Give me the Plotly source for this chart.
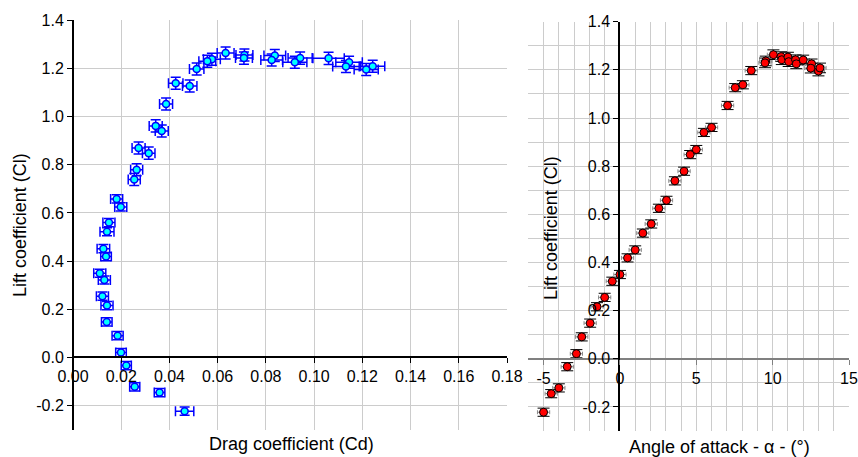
import plotly.graph_objects as go

# ---- data ----
alpha = [-5.0, -4.5, -4.0, -3.45, -2.85, -2.5, -1.95, -1.5, -1.0, -0.5, 0.0, 0.5, 1.0, 1.5, 2.05,
         2.55, 3.05, 3.6, 4.2, 4.6, 5.0, 5.5, 6.0, 7.05, 7.55, 8.05, 8.6, 9.55, 9.5, 10.05, 10.55,
         10.6, 11.0, 11.05, 11.5, 11.55, 12.0, 12.55, 12.5, 13.0, 13.1]
cl = [-0.222, -0.145, -0.121, -0.033, 0.021, 0.091, 0.148, 0.216, 0.255, 0.322, 0.350, 0.419,
      0.452, 0.522, 0.560, 0.625, 0.658, 0.739, 0.779, 0.848, 0.869, 0.940, 0.961, 1.052, 1.126,
      1.138, 1.197, 1.237, 1.229, 1.263, 1.255, 1.242, 1.253, 1.234, 1.242, 1.225, 1.241, 1.225,
      1.207, 1.195, 1.208]
cd = [0.0463, 0.0359, 0.0256, 0.0221, 0.0199, 0.0185, 0.0140, 0.0141, 0.0122, 0.0130, 0.0111,
      0.0137, 0.0126, 0.0141, 0.0149, 0.0198, 0.0181, 0.0254, 0.0264, 0.0314, 0.0272, 0.0368,
      0.0343, 0.0386, 0.0484, 0.0426, 0.0513, 0.0576, 0.0557, 0.0633, 0.0711, 0.0709, 0.0837,
      0.0824, 0.0942, 0.0920, 0.1060, 0.1145, 0.1132, 0.1216, 0.1243]
cd_err = [0.0038, 0.0022, 0.0021, 0.0021, 0.0022, 0.0023, 0.0022, 0.0025, 0.0025, 0.0025, 0.0025,
          0.0022, 0.0026, 0.0029, 0.0025, 0.0025, 0.0025, 0.0025, 0.0025, 0.0026, 0.0027, 0.0027,
          0.0027, 0.0027, 0.0030, 0.0030, 0.0030, 0.0035, 0.0035, 0.0035, 0.0035, 0.0035, 0.0045,
          0.0045, 0.0050, 0.0050, 0.0065, 0.0055, 0.0055, 0.0050, 0.0050]
cl_err_left = [0.017] * 17 + [0.025] * 24
cl_err_right = [0.017] * 27 + [0.02] * 14
alpha_err = [0.4] * 41

cl_tickvals = [-0.2, 0.0, 0.2, 0.4, 0.6, 0.8, 1.0, 1.2, 1.4]
cl_ticktext = ["-0.2", "0.0", "0.2", "0.4", "0.6", "0.8", "1.0", "1.2", "1.4"]
cd_tickvals = [0.00, 0.02, 0.04, 0.06, 0.08, 0.10, 0.12, 0.14, 0.16, 0.18]
cd_ticktext = ["0.00", "0.02", "0.04", "0.06", "0.08", "0.10", "0.12", "0.14", "0.16", "0.18"]
alpha_tickvals = [-5, 0, 5, 10, 15]
alpha_ticktext = ["-5", "0", "5", "10", "15"]

W, H = 858, 457
def px(x): return x / W
def py(y): return 1 - y / H

FONT = "Arial, 'Liberation Sans', sans-serif"
GRID = "#cccccc"

fig = go.Figure()

fig.add_trace(go.Scatter(
    x=cd, y=cl, mode="markers", xaxis="x", yaxis="y",
    marker=dict(symbol="circle", size=7, color="#00ffff", line=dict(color="#0000ff", width=1.5)),
    error_x=dict(type="data", array=cd_err, color="#0000ff", thickness=1.5, width=5),
    error_y=dict(type="data", array=cl_err_left, color="#0000ff", thickness=1.5, width=5),
    showlegend=False,
))

fig.add_trace(go.Scatter(
    x=alpha, y=cl, mode="markers", xaxis="x2", yaxis="y2",
    marker=dict(symbol="circle", size=8, color="#ff0000", line=dict(color="#000000", width=1)),
    error_x=dict(type="data", array=alpha_err, color="#888888", thickness=1, width=2),
    error_y=dict(type="data", array=cl_err_right, color="#000000", thickness=1, width=6),
    showlegend=False,
))

left_dom_x = [px(73), px(507)]
left_dom_y = [py(430), py(20)]
right_dom_x = [px(528.3), px(849)]
right_dom_y = [py(431), py(21.7)]

fig.update_layout(
    width=W, height=H, autosize=False,
    margin=dict(l=0, r=0, t=0, b=0, pad=0, autoexpand=False),
    paper_bgcolor="white", plot_bgcolor="white",
    font=dict(family=FONT, size=16, color="black"),
    xaxis=dict(
        domain=left_dom_x, range=[0, 0.18], anchor="free", position=py(357), automargin=False,
        tickvals=cd_tickvals, ticktext=cd_ticktext,
        showline=True, linecolor="black", linewidth=1.5,
        ticks="outside", ticklen=5, tickcolor="black", tickwidth=1,
        showgrid=True, gridcolor=GRID, gridwidth=1, zeroline=False,
    ),
    yaxis=dict(
        domain=left_dom_y, range=[-0.3, 1.4], anchor="free", position=px(73), automargin=False,
        tickvals=cl_tickvals, ticktext=cl_ticktext,
        showline=True, linecolor="black", linewidth=2,
        ticks="outside", ticklen=5, tickcolor="black", tickwidth=1,
        showgrid=True, gridcolor=GRID, gridwidth=1, zeroline=False,
    ),
    xaxis2=dict(
        domain=right_dom_x, range=[-6, 15], anchor="free", position=py(358.8), automargin=False,
        tickvals=alpha_tickvals, ticktext=alpha_ticktext, ticklabeloverflow="allow",
        showline=True, linecolor="#808080", linewidth=2,
        ticks="outside", ticklen=5, tickcolor="#808080", tickwidth=1,
        showgrid=True, gridcolor=GRID, gridwidth=1, zeroline=False,
        minor=dict(tickmode="linear", tick0=-6, dtick=1, showgrid=True, gridcolor=GRID, gridwidth=1),
    ),
    yaxis2=dict(
        domain=right_dom_y, range=[-0.3, 1.4], anchor="free", position=px(619.3), automargin=False,
        tickvals=cl_tickvals, ticktext=cl_ticktext,
        showline=True, linecolor="black", linewidth=2,
        ticks="outside", ticklen=5, tickcolor="black", tickwidth=1,
        showgrid=True, gridcolor=GRID, gridwidth=1, zeroline=False,
        minor=dict(tickmode="linear", tick0=-0.3, dtick=0.1, showgrid=True, gridcolor=GRID, gridwidth=1),
    ),
    annotations=[
        dict(text="Lift coefficient (Cl)", x=px(20), y=py(225), xref="paper", yref="paper",
             textangle=-90, showarrow=False, font=dict(size=18), xanchor="center", yanchor="middle"),
        dict(text="Drag coefficient (Cd)", x=px(291), y=py(444), xref="paper", yref="paper",
             showarrow=False, font=dict(size=18), xanchor="center", yanchor="middle"),
        dict(text="Lift coefficient (Cl)", x=px(551), y=py(228), xref="paper", yref="paper",
             textangle=-90, showarrow=False, font=dict(size=18), xanchor="center", yanchor="middle"),
        dict(text="Angle of attack - α - (°)", x=px(719), y=py(447), xref="paper", yref="paper",
             showarrow=False, font=dict(size=18), xanchor="center", yanchor="middle"),
    ],
)

fig.write_html(
    "out.html",
    config={"displayModeBar": False},
    post_script="document.body.style.margin='0';document.body.style.overflow='hidden';",
)
